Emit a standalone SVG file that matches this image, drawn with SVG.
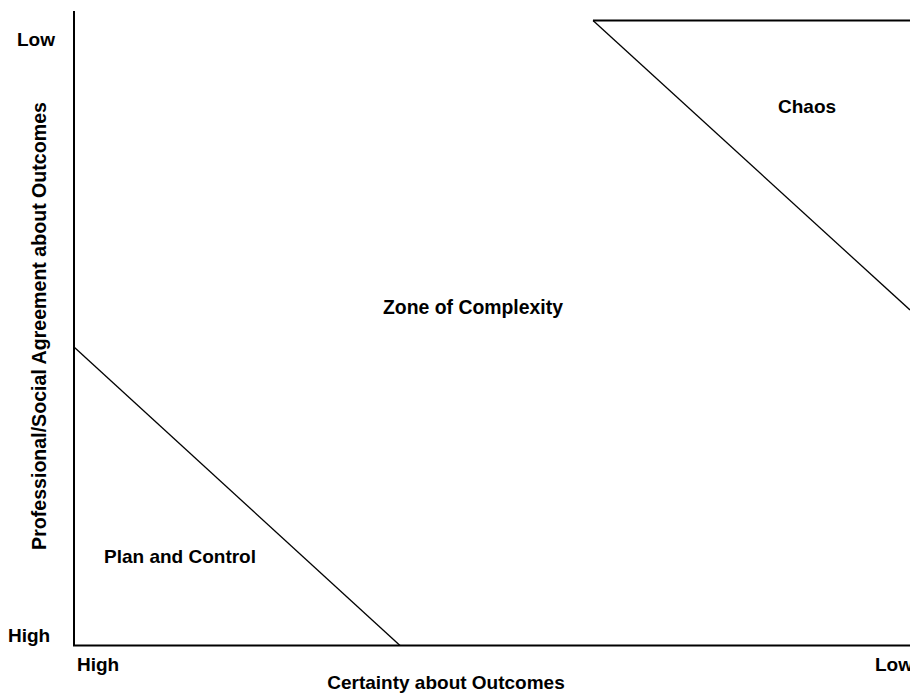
<svg xmlns="http://www.w3.org/2000/svg" width="910" height="694" viewBox="0 0 910 694">
<style>
text{font-family:"Liberation Sans",Arial,sans-serif;font-weight:bold;font-size:19px;fill:#000}
.ax{stroke:#000;stroke-width:2;fill:none}
.ln{stroke:#000;stroke-width:1.3;fill:none}
</style>
<rect width="910" height="694" fill="#fff"/>
<g id="connectors">
<line class="ax" x1="74" y1="11" x2="74" y2="646"/>
<line class="ax" x1="73" y1="645.5" x2="910" y2="645.5"/>
<line class="ax" x1="593" y1="20.5" x2="910" y2="20.5"/>
<line class="ln" x1="593" y1="20.5" x2="910" y2="310"/>
<line class="ln" x1="74" y1="347" x2="400" y2="645.5"/>
</g>
<g id="axis-labels">
<text x="17" y="46">Low</text>
<text x="8" y="642">High</text>
<text x="77" y="671">High</text>
<text x="875" y="671">Low</text>
<text x="446" y="689" text-anchor="middle">Certainty about Outcomes</text>
<text transform="translate(46,326) rotate(-90)" text-anchor="middle" style="font-size:19.6px">Professional/Social Agreement about Outcomes</text>
</g>
<g id="chaos"><text x="778" y="113">Chaos</text></g>
<g id="zone"><text x="383" y="314" style="font-size:19.4px">Zone of Complexity</text></g>
<g id="plan"><text x="104" y="563">Plan and Control</text></g>
</svg>
